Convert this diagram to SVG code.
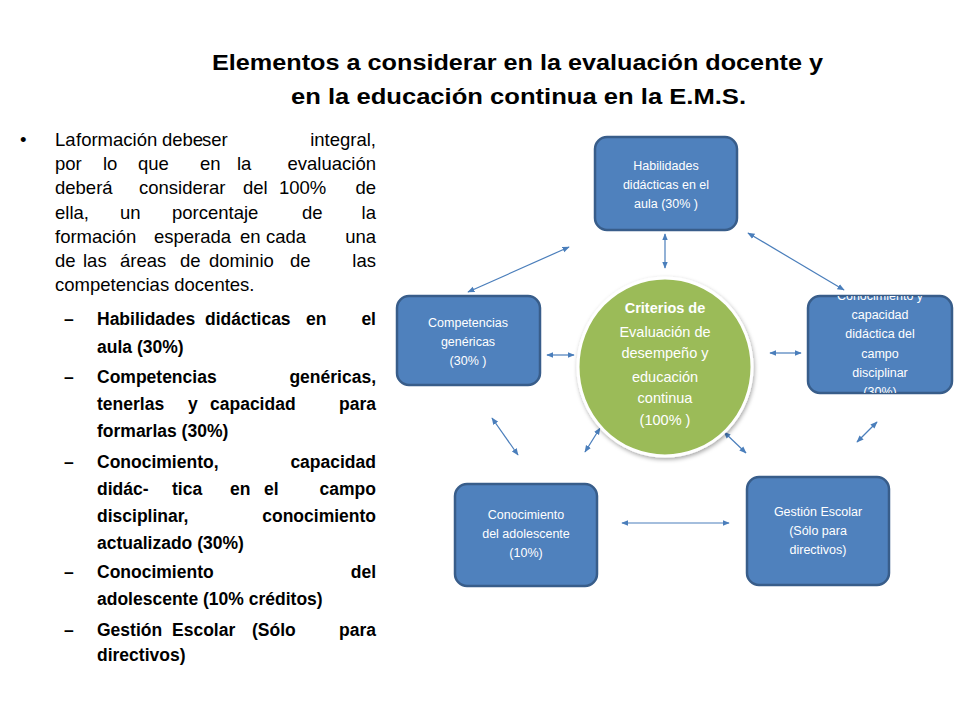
<svg xmlns="http://www.w3.org/2000/svg" width="960" height="720" viewBox="0 0 960 720">
<style>
.t{font-family:"Liberation Sans",Arial,sans-serif;font-size:18.5px;fill:#000}
.b{font-weight:bold;font-size:17.5px}
.e{text-anchor:end}
.n{fill:#4f81bd;stroke:#385d8a;stroke-width:2.5}
.nt{font-family:"Liberation Sans",Arial,sans-serif;font-size:12.5px;fill:#fff;text-anchor:middle}
.c{stroke:#4a7ebb;stroke-width:1.2;fill:none;marker-start:url(#a);marker-end:url(#a)}
</style>
<defs>
<marker id="a" viewBox="0 0 10 10" refX="9" refY="5" markerWidth="6" markerHeight="6" orient="auto-start-reverse"><path d="M0,1L10,5L0,9z" fill="#4a7ebb"/></marker>
<clipPath id="cr"><rect x="808" y="296" width="144" height="97" rx="12"/></clipPath>
<filter id="sh" x="-20%" y="-20%" width="140%" height="140%"><feDropShadow dx="1" dy="2" stdDeviation="2" flood-opacity="0.35"/></filter>
</defs>
<rect width="960" height="720" fill="#fff"/>
<g font-family="Liberation Sans,Arial,sans-serif" font-weight="bold" font-size="22">
<text x="212" y="70" textLength="611" lengthAdjust="spacingAndGlyphs">Elementos a considerar en la evaluación docente y</text>
<text x="291" y="104" textLength="455" lengthAdjust="spacingAndGlyphs">en la educación continua en la E.M.S.</text>
</g>
<g id="texto" class="t">
<text x="20" y="146">•</text>
<text x="55" y="146">La</text><text x="76" y="146">formación</text><text x="162" y="146">debe</text><text x="202" y="146">ser</text><text class="e" x="376" y="146">integral,</text>
<text x="55" y="170">por</text><text x="103" y="170">lo</text><text x="138" y="170">que</text><text x="200" y="170">en</text><text x="237" y="170">la</text><text class="e" x="376" y="170">evaluación</text>
<text x="55" y="194">deberá</text><text x="139" y="194">considerar</text><text x="243" y="194">del</text><text x="279" y="194">100%</text><text class="e" x="376" y="194">de</text>
<text x="55" y="219">ella,</text><text x="120" y="219">un</text><text x="172" y="219">porcentaje</text><text x="302" y="219">de</text><text class="e" x="376" y="219">la</text>
<text x="55" y="243">formación</text><text x="154" y="243">esperada</text><text x="240" y="243">en</text><text x="266" y="243">cada</text><text class="e" x="376" y="243">una</text>
<text x="55" y="267">de</text><text x="83" y="267">las</text><text x="120" y="267">áreas</text><text x="180" y="267">de</text><text x="209" y="267">dominio</text><text x="290" y="267">de</text><text class="e" x="376" y="267">las</text>
<text x="55" y="291">competencias docentes.</text>
<g class="b">
<text x="64" y="325">–</text>
<text x="97" y="325">Habilidades</text><text x="205" y="325">didácticas</text><text x="306" y="325">en</text><text class="e" x="376" y="325">el</text>
<text x="97" y="353">aula (30%)</text>
<text x="64" y="383">–</text>
<text x="97" y="383">Competencias</text><text class="e" x="376" y="383">genéricas,</text>
<text x="97" y="410">tenerlas</text><text x="188" y="410">y</text><text x="210" y="410">capacidad</text><text class="e" x="376" y="410">para</text>
<text x="97" y="437">formarlas (30%)</text>
<text x="64" y="468">–</text>
<text x="97" y="468">Conocimiento,</text><text class="e" x="376" y="468">capacidad</text>
<text x="97" y="495">didác-</text><text x="172" y="495">tica</text><text x="230" y="495">en</text><text x="264" y="495">el</text><text class="e" x="376" y="495">campo</text>
<text x="97" y="522">disciplinar,</text><text class="e" x="376" y="522">conocimiento</text>
<text x="97" y="549">actualizado (30%)</text>
<text x="64" y="578">–</text>
<text x="97" y="578">Conocimiento</text><text class="e" x="376" y="578">del</text>
<text x="97" y="605">adolescente (10% créditos)</text>
<text x="64" y="636">–</text>
<text x="97" y="636">Gestión</text><text x="172" y="636">Escolar</text><text x="252" y="636">(Sólo</text><text class="e" x="376" y="636">para</text>
<text x="97" y="661">directivos)</text>
</g>
</g>
<g id="conectores">
<line class="c" x1="665" y1="234" x2="665" y2="268"/>
<line class="c" x1="569" y1="247" x2="468" y2="292"/>
<line class="c" x1="748" y1="233" x2="844" y2="290"/>
<line class="c" x1="547" y1="355" x2="574" y2="355"/>
<line class="c" x1="770" y1="353" x2="801" y2="353"/>
<line class="c" x1="492" y1="418" x2="518" y2="455"/>
<line class="c" x1="600" y1="428" x2="585" y2="452"/>
<line class="c" x1="724" y1="432" x2="746" y2="453"/>
<line class="c" x1="877" y1="422" x2="857" y2="442"/>
<line class="c" x1="622" y1="523" x2="729" y2="523"/>
</g>
<g id="centro">
<ellipse cx="665" cy="367" rx="87" ry="89" fill="#9bbb59" stroke="#fff" stroke-width="3" filter="url(#sh)"/>
<g font-family="Liberation Sans,Arial,sans-serif" font-size="14.5" fill="#fff" text-anchor="middle">
<text x="665" y="313" font-weight="bold">Criterios de</text>
<text x="665" y="337">Evaluación de</text>
<text x="665" y="358">desempeño y</text>
<text x="665" y="382">educación</text>
<text x="665" y="403">continua</text>
<text x="665" y="425">(100% )</text>
</g>
</g>
<g id="habilidades">
<rect class="n" x="595" y="137" width="142" height="93" rx="12"/>
<text class="nt" x="666" y="170">Habilidades</text>
<text class="nt" x="666" y="189">didácticas en el</text>
<text class="nt" x="666" y="208">aula (30% )</text>
</g>
<g id="competencias">
<rect class="n" x="397" y="296" width="143" height="89" rx="12"/>
<text class="nt" x="468" y="327">Competencias</text>
<text class="nt" x="468" y="346">genéricas</text>
<text class="nt" x="468" y="365">(30% )</text>
</g>
<g id="conocimiento">
<rect class="n" x="808" y="296" width="144" height="97" rx="12"/>
<g clip-path="url(#cr)">
<text class="nt" x="880" y="300">Conocimiento y</text>
<text class="nt" x="880" y="319">capacidad</text>
<text class="nt" x="880" y="338">didáctica del</text>
<text class="nt" x="880" y="358">campo</text>
<text class="nt" x="880" y="377">disciplinar</text>
<text class="nt" x="880" y="396">(30%)</text>
</g>
</g>
<g id="adolescente">
<rect class="n" x="455" y="484" width="142" height="102" rx="12"/>
<text class="nt" x="526" y="519">Conocimiento</text>
<text class="nt" x="526" y="538">del adolescente</text>
<text class="nt" x="526" y="557">(10%)</text>
</g>
<g id="gestion">
<rect class="n" x="747" y="477" width="142" height="108" rx="12"/>
<text class="nt" x="818" y="516">Gestión Escolar</text>
<text class="nt" x="818" y="535">(Sólo para</text>
<text class="nt" x="818" y="554">directivos)</text>
</g>
</svg>
